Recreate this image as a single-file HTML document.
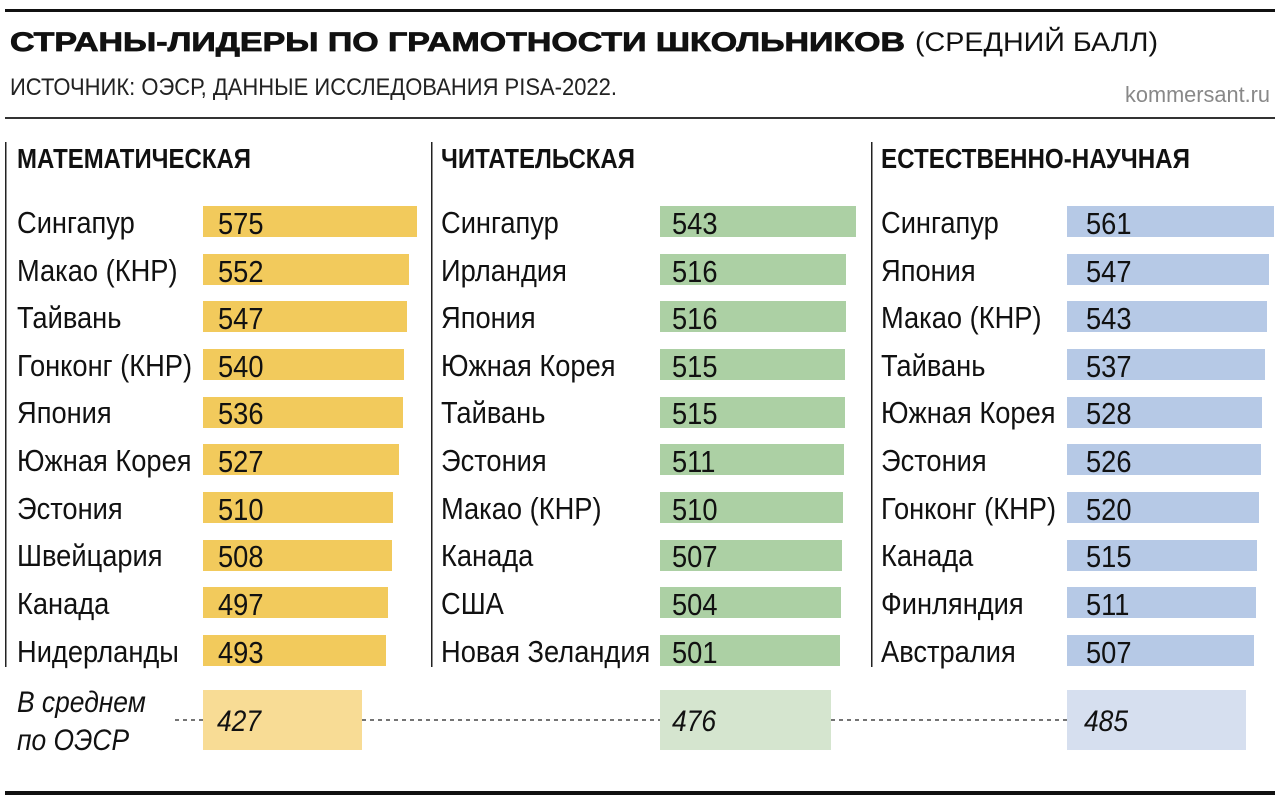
<!DOCTYPE html>
<html><head><meta charset="utf-8"><style>html,body{margin:0;padding:0;background:#fff}svg{display:block}</style></head><body>
<svg width="1280" height="804" viewBox="0 0 1280 804" xmlns="http://www.w3.org/2000/svg" font-family="Liberation Sans, sans-serif">
<rect x="0" y="0" width="1280" height="804" fill="#fff"/>
<rect x="5" y="9" width="1270" height="3" fill="#111"/>
<rect x="5" y="117" width="1270" height="2" fill="#333"/>
<rect x="5" y="791" width="1270" height="4" fill="#111"/>
<text x="10" y="51" font-size="27" font-weight="bold" textLength="895" lengthAdjust="spacingAndGlyphs" fill="#111" stroke="#111" stroke-width="0.8">СТРАНЫ-ЛИДЕРЫ ПО ГРАМОТНОСТИ ШКОЛЬНИКОВ</text>
<text x="915" y="51" font-size="27" textLength="243" lengthAdjust="spacingAndGlyphs" fill="#111">(СРЕДНИЙ БАЛЛ)</text>
<text x="10" y="95" font-size="24" textLength="607" lengthAdjust="spacingAndGlyphs" fill="#222">ИСТОЧНИК: ОЭСР, ДАННЫЕ ИССЛЕДОВАНИЯ PISA-2022.</text>
<text x="1125" y="102" font-size="22" textLength="145" lengthAdjust="spacingAndGlyphs" fill="#888">kommersant.ru</text>
<rect x="5" y="142" width="1.5" height="525" fill="#222"/>
<rect x="431" y="142" width="1.5" height="525" fill="#222"/>
<rect x="871" y="142" width="1.5" height="525" fill="#222"/>
<g font-size="28" font-weight="bold" fill="#111">
<text x="17" y="168" textLength="234" lengthAdjust="spacingAndGlyphs">МАТЕМАТИЧЕСКАЯ</text>
<text x="441" y="168" textLength="194" lengthAdjust="spacingAndGlyphs">ЧИТАТЕЛЬСКАЯ</text>
<text x="881" y="168" textLength="309" lengthAdjust="spacingAndGlyphs">ЕСТЕСТВЕННО-НАУЧНАЯ</text>
</g>
<line x1="175" y1="720" x2="203" y2="720" stroke="#222" stroke-width="1.2" stroke-dasharray="4,4"/>
<line x1="362" y1="720" x2="660" y2="720" stroke="#222" stroke-width="1.2" stroke-dasharray="4,4"/>
<line x1="831" y1="720" x2="1067" y2="720" stroke="#222" stroke-width="1.2" stroke-dasharray="4,4"/>
<rect x="203" y="690" width="159" height="60" fill="#f8dc95"/>
<rect x="660" y="690" width="171" height="60" fill="#d5e5cf"/>
<rect x="1067" y="690" width="179" height="60" fill="#d6dfef"/>
<g font-style="italic" fill="#111" font-size="30">
<g transform="translate(17,0) scale(0.88,1)"><text x="0" y="712">В среднем</text><text x="0" y="750">по ОЭСР</text></g>
<g transform="translate(217,0) scale(0.88,1)"><text x="0" y="731">427</text></g>
<g transform="translate(672,0) scale(0.88,1)"><text x="0" y="731">476</text></g>
<g transform="translate(1084,0) scale(0.88,1)"><text x="0" y="731">485</text></g>
</g>
<g fill="#f2ca5c">
<rect x="203" y="206" width="214" height="31"/><rect x="203" y="254" width="206" height="31"/><rect x="203" y="301" width="204" height="31"/><rect x="203" y="349" width="201" height="31"/><rect x="203" y="397" width="200" height="31"/><rect x="203" y="444" width="196" height="31"/><rect x="203" y="492" width="190" height="31"/><rect x="203" y="540" width="189" height="31"/><rect x="203" y="587" width="185" height="31"/><rect x="203" y="635" width="183" height="31"/>
</g>
<g fill="#acd0a4">
<rect x="660" y="206" width="196" height="31"/><rect x="660" y="254" width="186" height="31"/><rect x="660" y="301" width="186" height="31"/><rect x="660" y="349" width="185" height="31"/><rect x="660" y="397" width="185" height="31"/><rect x="660" y="444" width="184" height="31"/><rect x="660" y="492" width="183" height="31"/><rect x="660" y="540" width="182" height="31"/><rect x="660" y="587" width="181" height="31"/><rect x="660" y="635" width="180" height="31"/>
</g>
<g fill="#b6c9e6">
<rect x="1067" y="206" width="207" height="31"/><rect x="1067" y="254" width="202" height="31"/><rect x="1067" y="301" width="200" height="31"/><rect x="1067" y="349" width="198" height="31"/><rect x="1067" y="397" width="195" height="31"/><rect x="1067" y="444" width="194" height="31"/><rect x="1067" y="492" width="192" height="31"/><rect x="1067" y="540" width="190" height="31"/><rect x="1067" y="587" width="189" height="31"/><rect x="1067" y="635" width="187" height="31"/>
</g>
<g font-size="31" fill="#111">
<g transform="translate(17,0) scale(0.88,1)">
<text y="233">Сингапур</text><text y="281">Макао (КНР)</text><text y="328">Тайвань</text><text y="376">Гонконг (КНР)</text><text y="423">Япония</text><text y="471">Южная Корея</text><text y="519">Эстония</text><text y="566">Швейцария</text><text y="614">Канада</text><text y="662">Нидерланды</text>
</g>
<g transform="translate(218,0) scale(0.88,1)">
<text y="234">575</text><text y="282">552</text><text y="329">547</text><text y="377">540</text><text y="424">536</text><text y="472">527</text><text y="520">510</text><text y="567">508</text><text y="615">497</text><text y="663">493</text>
</g>
<g transform="translate(441,0) scale(0.88,1)">
<text y="233">Сингапур</text><text y="281">Ирландия</text><text y="328">Япония</text><text y="376">Южная Корея</text><text y="423">Тайвань</text><text y="471">Эстония</text><text y="519">Макао (КНР)</text><text y="566">Канада</text><text y="614">США</text><text y="662">Новая Зеландия</text>
</g>
<g transform="translate(672,0) scale(0.88,1)">
<text y="234">543</text><text y="282">516</text><text y="329">516</text><text y="377">515</text><text y="424">515</text><text y="472">511</text><text y="520">510</text><text y="567">507</text><text y="615">504</text><text y="663">501</text>
</g>
<g transform="translate(881,0) scale(0.88,1)">
<text y="233">Сингапур</text><text y="281">Япония</text><text y="328">Макао (КНР)</text><text y="376">Тайвань</text><text y="423">Южная Корея</text><text y="471">Эстония</text><text y="519">Гонконг (КНР)</text><text y="566">Канада</text><text y="614">Финляндия</text><text y="662">Австралия</text>
</g>
<g transform="translate(1086,0) scale(0.88,1)">
<text y="234">561</text><text y="282">547</text><text y="329">543</text><text y="377">537</text><text y="424">528</text><text y="472">526</text><text y="520">520</text><text y="567">515</text><text y="615">511</text><text y="663">507</text>
</g>
</g>
</svg>
</body></html>
